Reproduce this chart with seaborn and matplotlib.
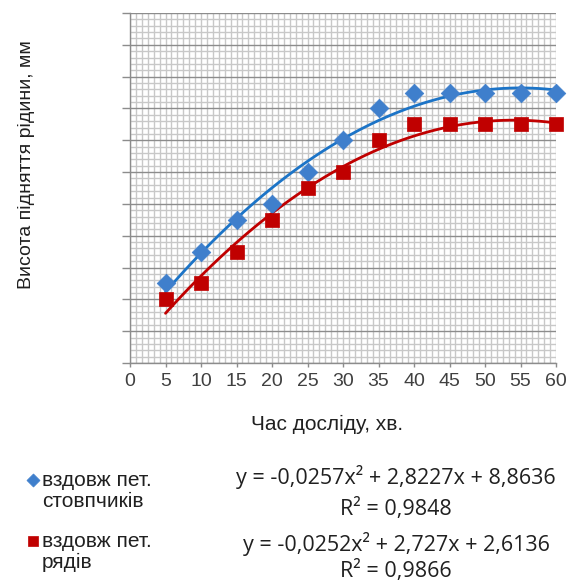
import numpy as np
import pandas as pd
import matplotlib
matplotlib.use("Agg")
import matplotlib.pyplot as plt
from matplotlib.ticker import MultipleLocator, NullFormatter
import seaborn as sns

# data
time_min = [5, 10, 15, 20, 25, 30, 35, 40, 45, 50, 55, 60]
h_columns = [25, 35, 45, 50, 60, 70, 80, 85, 85, 85, 85, 85]
h_rows = [20, 25, 35, 45, 55, 60, 70, 75, 75, 75, 75, 75]
label_columns = "вздовж пет.\nстовпчиків"
label_rows = "вздовж пет.\nрядів"
# trendline coefficients as printed on the chart (a, b, c)
coef_columns = [-0.0257, 2.8227, 8.8636]
coef_rows = [-0.0252, 2.727, 2.6136]
r2_columns = 0.9848
r2_rows = 0.9866
x_ticks = list(range(0, 65, 5))

blue_mk = "#3F7FCC"
blue_ln = "#1C74C7"
red = "#C00000"

sns.set_style("white")
plt.rcParams["font.family"] = ["Liberation Sans", "DejaVu Sans"]

df = pd.DataFrame({"t": time_min, "cols": h_columns, "rows": h_rows})

fig = plt.figure(figsize=(5.69, 5.83), dpi=100)
ax = fig.add_axes([130 / 569, 1 - 363 / 583, 426 / 569, 350 / 583])

# trendlines (2nd order polynomial)
sns.regplot(data=df, x="t", y="cols", order=2, ci=None, scatter=False,
            line_kws={"color": blue_ln, "lw": 2.0}, ax=ax)
sns.regplot(data=df, x="t", y="rows", order=2, ci=None, scatter=False,
            line_kws={"color": red, "lw": 2.0}, ax=ax)

sns.scatterplot(data=df, x="t", y="cols", marker="D", s=90, color=blue_mk,
                edgecolor=blue_mk, linewidth=0.5, ax=ax, zorder=5,
                clip_on=False, label=label_columns)
sns.scatterplot(data=df, x="t", y="rows", marker="s", s=110, color=red,
                edgecolor=red, linewidth=0.5, ax=ax, zorder=5,
                clip_on=False, label=label_rows)

ax.set_xlim(0, 60)
ax.set_ylim(0, 110)
ax.set_xticks(x_ticks)
ax.xaxis.set_minor_locator(MultipleLocator(5 / 6))
ax.yaxis.set_major_locator(MultipleLocator(10))
ax.yaxis.set_minor_locator(MultipleLocator(2))
ax.yaxis.set_major_formatter(NullFormatter())

ax.grid(which="minor", color="#C8C8C8", lw=1.0)
ax.xaxis.grid(which="major", color="#C8C8C8", lw=1.0)
ax.yaxis.grid(which="major", color="#8C8C8C", lw=1.0)
ax.set_axisbelow(True)

for s in ["top", "right"]:
    ax.spines[s].set_visible(False)
for s in ["left", "bottom"]:
    ax.spines[s].set_color("#8C8C8C")
    ax.spines[s].set_linewidth(1.0)

ax.tick_params(axis="y", which="major", left=True, length=6, color="#8C8C8C", width=1)
ax.tick_params(axis="x", which="major", bottom=True, length=3, color="#8C8C8C", width=1,
               labelsize=14, labelcolor="#404040", pad=4.5)
ax.tick_params(which="minor", length=0)

ax.set_xlabel("Час досліду, хв.", fontsize=15, color="#202020", va="center")
ax.xaxis.set_label_coords((327 - 130) / 426, (363 - 424) / 350)
ax.set_ylabel("Висота підняття рідини, мм", fontsize=14, color="#202020", va="center")
ax.yaxis.set_label_coords((27 - 130) / 426, (363 - 165) / 350)

leg = ax.legend(loc="upper left", bbox_to_anchor=(26.5 / 569, 1 - 471 / 583),
                bbox_transform=fig.transFigure, frameon=False, fontsize=15,
                handlelength=0.58, handletextpad=0.17, labelspacing=1.0,
                borderaxespad=0, borderpad=0, markerscale=0.7,
                scatteryoffsets=[1.3])
for t in leg.get_texts():
    t.set_linespacing(1.15)
    t.set_color("#202020")


def fmt(v):
    return f"{v}".replace(".", ",")


def eq_text(c):
    a, b, k = c
    return f"y = {fmt(a)}x² + {fmt(b)}x + {fmt(k)}"


eq_font = ["Open Sans", "DejaVu Sans"]
eq_kw = dict(ha="center", va="baseline", fontsize=15.5, family=eq_font, color="#202020")
fig.text(396 / 569, 1 - 484 / 583, eq_text(coef_columns), **eq_kw)
fig.text(396 / 569, 1 - 515.5 / 583, f"R² = {fmt(r2_columns)}", **eq_kw)
fig.text(396 / 569, 1 - 551 / 583, eq_text(coef_rows), **eq_kw)
fig.text(396 / 569, 1 - 577.5 / 583, f"R² = {fmt(r2_rows)}", **eq_kw)

fig.savefig("out.png", dpi=100)
